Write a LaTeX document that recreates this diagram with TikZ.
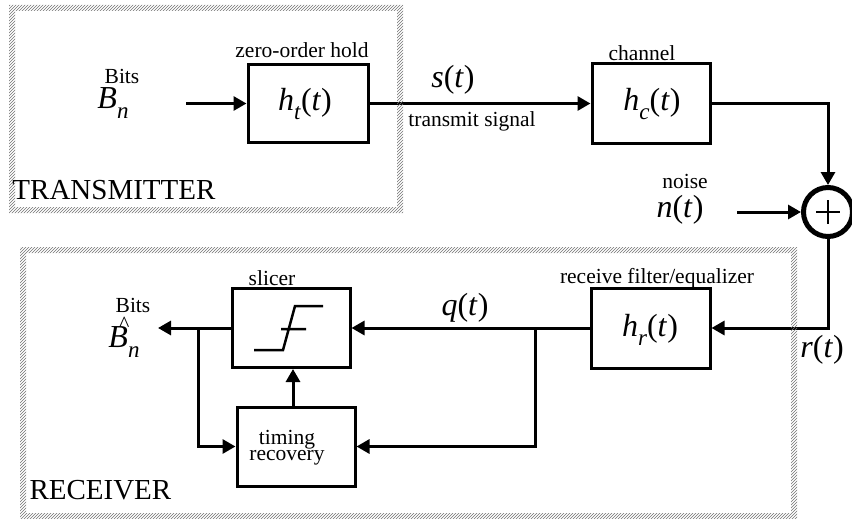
\documentclass[tikz,border=0pt]{standalone}
\usepackage{fontspec}
\setmainfont{Liberation Serif}
\usetikzlibrary{arrows.meta,patterns}
\newcommand{\mvar}[2]{\textit{#1}\raisebox{-0.3em}{\fontsize{23}{23}\selectfont\textit{#2}}}
\begin{document}
\begin{tikzpicture}[x=1pt,y=-1pt,
  line width=3pt,
  blk/.style={draw,line width=3pt,inner sep=0pt,rectangle},
  lbl/.style={inner sep=0pt,font=\fontsize{21.5}{22}\selectfont},
  mth/.style={inner sep=0pt,font=\fontsize{32}{33}\selectfont},
  big/.style={inner sep=0pt,font=\fontsize{29}{30}\selectfont},
  arr/.style={-{Triangle[length=13pt,width=14pt]}},
  band/.style={pattern=north east lines,pattern color=black!55,even odd rule,draw=none}]
\useasboundingbox (0,0) rectangle (852,519);
% blocks
\node[blk,minimum width=120pt,minimum height=78pt] (ht) at (308,103.5) {};
\node[mth] (htl) at (305,104) {\mvar{h}{t}(\textit{t})};
\node[blk,minimum width=118pt,minimum height=80pt] (hc) at (651,103.5) {};
\node[mth] (hcl) at (652,104) {\mvar{h}{c}(\textit{t})};
\node[draw,circle,line width=5pt,minimum size=49pt,inner sep=0pt] (sum) at (828,212) {};
\draw[line width=2.5pt] (816,212) -- (840,212) (828,200) -- (828,224);
\node[blk,minimum width=119pt,minimum height=80pt] (hr) at (650.5,328) {};
\node[mth] (hrl) at (650,330) {\mvar{h}{r}(\textit{t})};
\node[blk,minimum width=118pt,minimum height=79pt] (sl) at (291,328) {};
\draw[line width=2.5pt] (254,350) -- (283,350) -- (295,306) -- (323,306) (281,329) -- (306,329);
\node[blk,minimum width=118pt,minimum height=79pt] (tr) at (296,446.5) {};
\node[lbl,align=center,font=\fontsize{21.5}{16}\selectfont] (trl) at (287,448) {timing\\recovery};
% labels
\node[lbl] (bits1) at (122,76) {Bits};
\node[mth] (bn) at (113,103) {\mvar{B}{n}};
\node[lbl] (zoh) at (302,50) {zero-order hold};
\node[mth] (st) at (453,80) {\textit{s}(\textit{t})};
\node[lbl] (ts) at (472,121) {transmit signal};
\node[lbl] (ch) at (642,53) {channel};
\node[lbl] (noise) at (685,181) {noise};
\node[mth] (nt) at (680,210) {\textit{n}(\textit{t})};
\node[lbl] (rfe) at (657,278) {receive filter/equalizer};
\node[mth] (rt) at (822,350) {\textit{r}(\textit{t})};
\node[mth] (qt) at (465,308) {\textit{q}(\textit{t})};
\node[lbl] (slab) at (272,278) {slicer};
\node[lbl] (bits2) at (133,305) {Bits};
\node[mth] (bhat) at (124,337) {\makebox[0pt][l]{\hspace{0.33em}\raisebox{0.5em}{\fontsize{22}{22}\selectfont\^{}}}\textit{B}\raisebox{-0.3em}{\fontsize{23}{23}\selectfont\textit{n}}};
% coordinates
\coordinate (bin) at (186,103.5);
\coordinate (nin) at (737,212);
\coordinate (j1) at (535,328);
\coordinate (j2) at (198,328);
\coordinate (bout) at (158,328);
% connectors
\draw[arr] (bin) -- (ht.west);
\draw[arr] (ht.east) -- (hc.west);
\draw[arr] (hc.east) -| (sum.north);
\draw[arr] (nin) -- (sum.west);
\draw[arr] (sum.south) |- (hr.east);
\draw[arr] (hr.west) -- (sl.east);
\draw[arr] (j1) |- (tr.east);
\draw[arr] (sl.west) -- (bout);
\draw[arr] (j2) |- (tr.west);
\draw[arr] (tr.north -| 293,0) -- (sl.south -| 293,0);
% boundary bands
\fill[band] (9,5) rectangle (403,213) (15,11) rectangle (397,207);
\node[big,anchor=base west] (txl) at (11,199) {TRANSMITTER};
\fill[band] (20,247) rectangle (797,525) (26,253) rectangle (791,513);
\node[big,anchor=base west] (rxl) at (28,499) {RECEIVER};
\end{tikzpicture}
\end{document}
